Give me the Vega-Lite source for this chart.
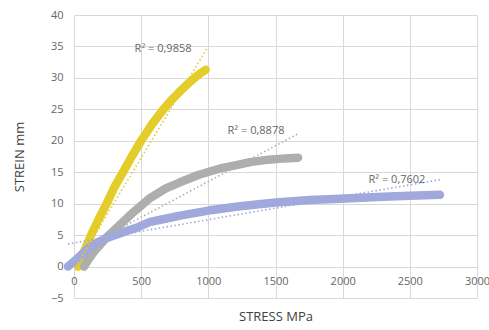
{
  "$schema": "https://vega.github.io/schema/vega-lite/v6.json",
  "width": 403,
  "height": 283,
  "autosize": {"type": "none"},
  "padding": {"left": 74, "top": 15, "right": 12, "bottom": 32},
  "background": "white",
  "config": {"view": {"stroke": null}, "font": "Open Sans"},
  "datasets": {
    "curves": [
      {"s": "A", "x": 30, "y": 0}, {"s": "A", "x": 80, "y": 2.6}, {"s": "A", "x": 131, "y": 5.2}, {"s": "A", "x": 190, "y": 7.8}, {"s": "A", "x": 243, "y": 10}, {"s": "A", "x": 300, "y": 12.6}, {"s": "A", "x": 370, "y": 15.2}, {"s": "A", "x": 430, "y": 17.5}, {"s": "A", "x": 500, "y": 20}, {"s": "A", "x": 580, "y": 22.6}, {"s": "A", "x": 665, "y": 25}, {"s": "A", "x": 735, "y": 26.7}, {"s": "A", "x": 801, "y": 28.1}, {"s": "A", "x": 860, "y": 29.3}, {"s": "A", "x": 920, "y": 30.4}, {"s": "A", "x": 980, "y": 31.3},
      {"s": "B", "x": 75, "y": 0}, {"s": "B", "x": 110, "y": 1.2}, {"s": "B", "x": 150, "y": 2.4}, {"s": "B", "x": 200, "y": 3.6}, {"s": "B", "x": 250, "y": 4.8}, {"s": "B", "x": 330, "y": 6.4}, {"s": "B", "x": 440, "y": 8.6}, {"s": "B", "x": 566, "y": 10.9}, {"s": "B", "x": 680, "y": 12.4}, {"s": "B", "x": 789, "y": 13.4}, {"s": "B", "x": 930, "y": 14.6}, {"s": "B", "x": 1087, "y": 15.6}, {"s": "B", "x": 1200, "y": 16.1}, {"s": "B", "x": 1310, "y": 16.6}, {"s": "B", "x": 1450, "y": 17.0}, {"s": "B", "x": 1570, "y": 17.2}, {"s": "B", "x": 1668, "y": 17.3},
      {"s": "C", "x": -45, "y": 0}, {"s": "C", "x": 0, "y": 0.8}, {"s": "C", "x": 50, "y": 1.8}, {"s": "C", "x": 100, "y": 2.8}, {"s": "C", "x": 144, "y": 3.5}, {"s": "C", "x": 200, "y": 4.1}, {"s": "C", "x": 250, "y": 4.6}, {"s": "C", "x": 320, "y": 5.1}, {"s": "C", "x": 392, "y": 5.65}, {"s": "C", "x": 480, "y": 6.3}, {"s": "C", "x": 566, "y": 7.1}, {"s": "C", "x": 680, "y": 7.6}, {"s": "C", "x": 789, "y": 8.1}, {"s": "C", "x": 1000, "y": 8.9}, {"s": "C", "x": 1236, "y": 9.6}, {"s": "C", "x": 1500, "y": 10.2}, {"s": "C", "x": 1757, "y": 10.6}, {"s": "C", "x": 1980, "y": 10.8}, {"s": "C", "x": 2300, "y": 11.1}, {"s": "C", "x": 2500, "y": 11.25}, {"s": "C", "x": 2724, "y": 11.4}
    ],
    "trends": [
      {"s": "A", "x": 30, "y": 0.6}, {"s": "A", "x": 990, "y": 34.7},
      {"s": "B", "x": 75, "y": 3.0}, {"s": "B", "x": 1675, "y": 21.2},
      {"s": "C", "x": -45, "y": 3.6}, {"s": "C", "x": 2735, "y": 13.85}
    ],
    "labels": [
      {"x": 663, "y": 34.65, "t": "R² = 0,9858"},
      {"x": 1355, "y": 21.5, "t": "R² = 0,8878"},
      {"x": 2404, "y": 13.7, "t": "R² = 0,7602"}
    ]
  },
  "layer": [
    {
      "data": {"name": "curves"},
      "mark": {"type": "line", "strokeWidth": 8.5, "strokeCap": "round", "strokeJoin": "round"},
      "encoding": {
        "x": {
          "field": "x", "type": "quantitative",
          "scale": {"domain": [0, 3000], "nice": false, "zero": false},
          "axis": {
            "title": "STRESS MPa", "values": [0, 500, 1000, 1500, 2000, 2500, 3000], "format": "d", "tickCount": 7,
            "labelOverlap": false, "labelFlush": false,
            "offset": -31, "domain": false, "ticks": false, "labelPadding": 8,
            "labelFontSize": 11, "labelColor": "#666666", "gridColor": "#d9d9d9",
            "titleFontSize": 13, "titleColor": "#404040", "titleFontWeight": "normal", "titlePadding": 24
          }
        },
        "y": {
          "field": "y", "type": "quantitative",
          "scale": {"domain": [-5, 40], "nice": false, "zero": false},
          "axis": {
            "title": "STREIN mm", "values": [-5, 0, 5, 10, 15, 20, 25, 30, 35, 40], "format": "d", "tickCount": 10,
            "labelOverlap": false, "labelFlush": false,
            "domain": false, "ticks": false, "labelPadding": 11,
            "labelFontSize": 11, "labelColor": "#666666", "gridColor": "#d9d9d9",
            "titleFontSize": 13, "titleColor": "#404040", "titleFontWeight": "normal", "titlePadding": 24
          }
        },
        "color": {
          "field": "s", "type": "nominal", "legend": null,
          "scale": {"domain": ["A", "B", "C"], "range": ["#E4CC2A", "#AEAEAE", "#A0A8DC"]}
        },
        "order": {"field": "x", "type": "quantitative"}
      }
    },
    {
      "data": {"name": "trends"},
      "mark": {"type": "line", "strokeWidth": 1.6, "strokeDash": [1.5, 2.5]},
      "encoding": {
        "x": {"field": "x", "type": "quantitative"},
        "y": {"field": "y", "type": "quantitative"},
        "color": {"field": "s", "type": "nominal", "legend": null}
      }
    },
    {
      "data": {"name": "labels"},
      "mark": {"type": "text", "fontSize": 11, "color": "#666666", "align": "center", "baseline": "middle"},
      "encoding": {
        "x": {"field": "x", "type": "quantitative"},
        "y": {"field": "y", "type": "quantitative"},
        "text": {"field": "t"}
      }
    }
  ]
}
